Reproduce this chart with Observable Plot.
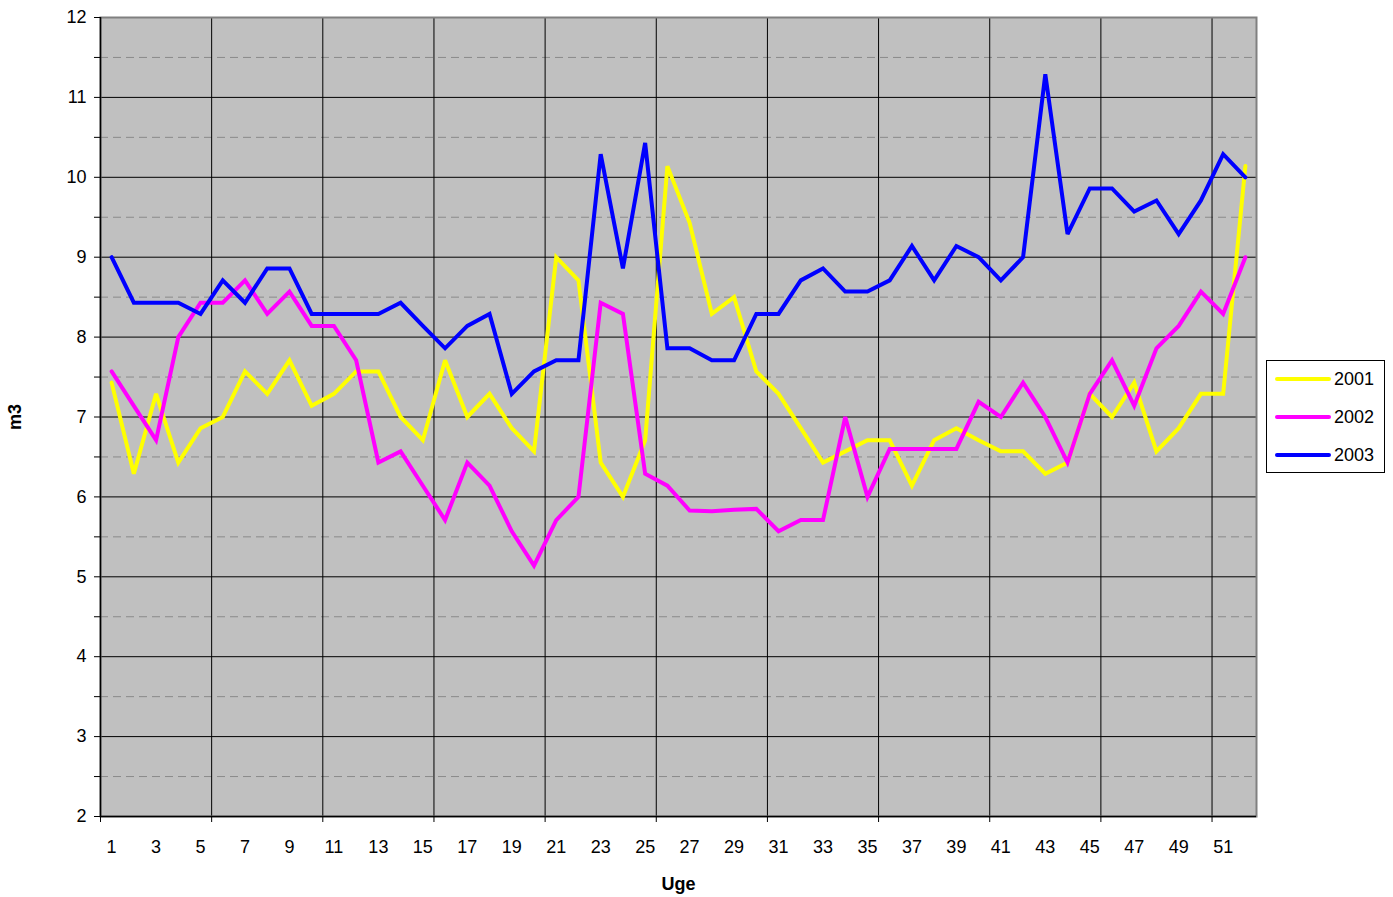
<!DOCTYPE html>
<html><head><meta charset="utf-8">
<script src="https://cdn.jsdelivr.net/npm/d3@7"></script>
<script src="https://cdn.jsdelivr.net/npm/@observablehq/plot@0.6"></script>
<style>
body{margin:0;background:#fff;font-family:"Liberation Sans",Arial,sans-serif;}
#wrap{position:relative;width:1393px;height:897px;}
#legend{position:absolute;left:1266px;top:360px;width:117px;height:111px;border:1px solid #000;background:#fff;box-sizing:content-box;}
.li{position:absolute;left:8px;height:20px;display:flex;align-items:center;font-size:18px;color:#000;}
.li span.sw{display:inline-block;width:56px;height:4px;border-radius:2px;margin-right:3px;}
</style>
</head><body>
<div id="wrap"><div id="chart"></div><div id="legend"></div></div>
<script>
const weeks = [1,2,3,4,5,6,7,8,9,10,11,12,13,14,15,16,17,18,19,20,21,22,23,24,25,26,27,28,29,30,31,32,33,34,35,36,37,38,39,40,41,42,43,44,45,46,47,48,49,50,51,52];
const seriesNames = ["2001","2002","2003"];
const seriesColors = ["#ffff00","#ff00ff","#0000ff"];
const y2001 = [7.43,6.29,7.29,6.43,6.86,7.0,7.57,7.29,7.71,7.14,7.29,7.57,7.57,7.0,6.71,7.71,7.0,7.29,6.86,6.57,9.0,8.71,6.43,6.0,6.71,10.14,9.43,8.29,8.5,7.57,7.29,6.86,6.43,6.57,6.71,6.71,6.14,6.71,6.86,6.71,6.57,6.57,6.29,6.43,7.29,7.0,7.43,6.57,6.86,7.29,7.29,10.14];
const y2002 = [7.57,7.14,6.71,8.0,8.43,8.43,8.71,8.29,8.57,8.14,8.14,7.71,6.43,6.57,6.14,5.71,6.43,6.14,5.57,5.14,5.71,6.0,8.43,8.29,6.29,6.14,5.83,5.82,5.84,5.85,5.57,5.71,5.71,7.0,6.0,6.6,6.6,6.6,6.6,7.19,7.0,7.43,7.0,6.43,7.29,7.71,7.14,7.86,8.14,8.57,8.29,9.0];
const y2003 = [9.0,8.43,8.43,8.43,8.29,8.71,8.43,8.86,8.86,8.29,8.29,8.29,8.29,8.43,8.14,7.86,8.14,8.29,7.29,7.57,7.71,7.71,10.29,8.86,10.43,7.86,7.86,7.71,7.71,8.29,8.29,8.71,8.86,8.57,8.57,8.71,9.14,8.71,9.14,9.0,8.71,9.0,11.29,9.29,9.86,9.86,9.57,9.71,9.29,9.71,10.29,10.0];
const yTicks = [2,3,4,5,6,7,8,9,10,11,12];
const yMinor = [2.5,3.5,4.5,5.5,6.5,7.5,8.5,9.5,10.5,11.5];
const xLabels = [1,3,5,7,9,11,13,15,17,19,21,23,25,27,29,31,33,35,37,39,41,43,45,47,49,51];
const xBounds = [0.5,5.5,10.5,15.5,20.5,25.5,30.5,35.5,40.5,45.5,50.5];
const xGrid = [5.5,10.5,15.5,20.5,25.5,30.5,35.5,40.5,45.5,50.5];

const allSeries = [y2001, y2002, y2003];
const rows = [];
allSeries.forEach((vals, s) => vals.forEach((v, i) => rows.push({week: weeks[i], value: v, series: seriesNames[s]})));

const font = '"Liberation Sans", Arial, sans-serif';
const chart = Plot.plot({
  width: 1393, height: 897,
  marginLeft: 100, marginRight: 137, marginTop: 17, marginBottom: 81,
  style: {fontFamily: font, fontSize: "18px", color: "#000", background: "#fff"},
  x: {domain: [0.5, 52.5], axis: null},
  y: {domain: [2, 12], axis: null},
  color: {domain: seriesNames, range: seriesColors},
  marks: [
    Plot.frame({fill: "#c0c0c0", stroke: null}),
    Plot.ruleY(yMinor, {stroke: "#8a8a8a", strokeWidth: 1, strokeDasharray: "8,5"}),
    Plot.ruleY(yTicks, {stroke: "#000", strokeWidth: 1}),
    Plot.ruleX(xGrid, {stroke: "#000", strokeWidth: 1}),
    Plot.lineY(rows, {x: "week", y: "value", z: "series", stroke: "series", strokeWidth: 4, strokeLinejoin: "miter", strokeMiterlimit: 3}),
    Plot.frame({stroke: "#808080", strokeWidth: 2}),
    Plot.ruleX([0.5], {stroke: "#000", strokeWidth: 1.5}),
    Plot.ruleY([2], {stroke: "#000", strokeWidth: 1.5}),
    Plot.axisY({ticks: [...yTicks, ...yMinor], tickSize: 6, tickPadding: 8, tickFormat: d => Number.isInteger(d) ? String(d) : "", fontSize: 18, label: null}),
    Plot.axisY({ticks: [], label: "m3", labelAnchor: "center", labelOffset: 92, labelArrow: "none", fontWeight: "bold", fontSize: 18}),
    Plot.axisX({ticks: xBounds, tickSize: 6, tickFormat: () => "", label: null}),
    Plot.axisX({ticks: xLabels, tickSize: 0, tickPadding: 24, tickFormat: d => String(d), fontSize: 18, label: null}),
    Plot.axisX({ticks: [], label: "Uge", labelAnchor: "center", labelOffset: 73, labelArrow: "none", fontWeight: "bold", fontSize: 18})
  ]
});
document.getElementById("chart").appendChild(chart);

const legend = document.getElementById("legend");
seriesNames.forEach((name, i) => {
  const d = document.createElement("div");
  d.className = "li";
  d.style.top = (8 + i * 38) + "px";
  d.innerHTML = `<span class="sw" style="background:${seriesColors[i]}"></span>${name}`;
  legend.appendChild(d);
});
</script>
</body></html>
